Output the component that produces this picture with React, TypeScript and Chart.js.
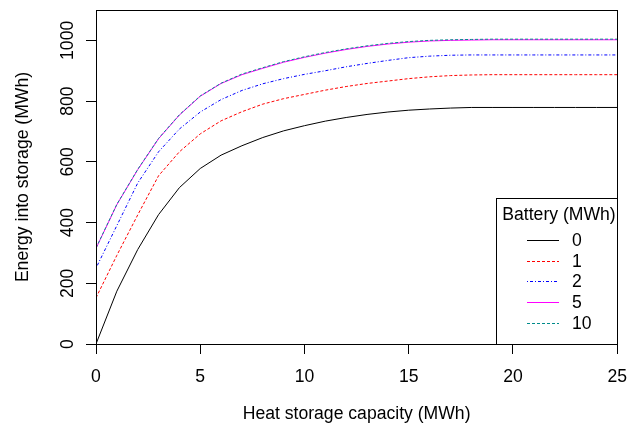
import { useEffect, useRef } from "react";
import { Chart, registerables } from "chart.js";

Chart.register(...registerables);

// ---- data ----
const heatCapacity = [0, 1, 2, 3, 4, 5, 6, 7, 8, 9, 10, 11, 12, 13, 14, 15, 16, 17, 18, 19, 20, 21, 22, 23, 24, 25];
const battery0 = [0, 174, 311, 426, 515, 578, 622, 653, 680, 702, 719, 734, 746, 756, 764, 770, 774, 777, 779, 779, 779, 779, 779, 779, 779, 779];
const battery1 = [152, 292, 425, 554, 633, 692, 735, 765, 790, 808, 822, 836, 848, 858, 866, 874, 880, 884, 886, 887, 887, 887, 887, 887, 887, 887];
const battery2 = [250, 390, 530, 633, 708, 764, 805, 835, 857, 874, 888, 900, 913, 924, 934, 943, 948, 951, 952, 952, 952, 952, 952, 952, 952, 952];
const battery5 = [315, 459, 574, 676, 754, 816, 858, 887, 908, 928, 944, 958, 970, 980, 988, 994, 998, 1000, 1001, 1002, 1002, 1002, 1002, 1002, 1002, 1002];
const battery10 = [316, 460, 575, 677, 755, 817, 859, 889, 910, 930, 946, 960, 972, 982, 990, 996, 1000, 1002, 1003, 1004, 1004, 1004, 1004, 1004, 1004, 1004];
const batteryLabels = ["0", "1", "2", "5", "10"];
const xTickValues = [0, 5, 10, 15, 20, 25];
const yTickValues = [0, 200, 400, 600, 800, 1000];

const seriesValues = [battery0, battery1, battery2, battery5, battery10];

// ---- styles ----
const FONT = "'Liberation Sans', Arial, Helvetica, sans-serif";
const FONT_SIZE = 17.6;
const seriesStyles = [
  { color: "#000000", dash: [] as number[] },
  { color: "#FF0000", dash: [3, 2] },
  { color: "#0000FF", dash: [1, 2, 3, 2] },
  { color: "#FF00FF", dash: [] as number[] },
  { color: "#008B8B", dash: [3, 2] },
];

const boxPlugin = {
  id: "rbox",
  afterDraw(chart: any) {
    const { ctx, chartArea } = chart;
    ctx.save();
    ctx.strokeStyle = "#000";
    ctx.lineWidth = 1;
    ctx.strokeRect(
      Math.round(chartArea.left) + 0.5,
      Math.round(chartArea.top) + 0.5,
      Math.round(chartArea.right - chartArea.left),
      Math.round(chartArea.bottom - chartArea.top)
    );
    ctx.restore();
  },
};

const legendPlugin = {
  id: "rlegend",
  afterDraw(chart: any) {
    const { ctx, chartArea } = chart;
    const right = Math.round(chartArea.right);
    const bottom = Math.round(chartArea.bottom);
    const left = right - 121;
    const top = bottom - 146;
    ctx.save();
    ctx.fillStyle = "#fff";
    ctx.fillRect(left, top, right - left, bottom - top);
    ctx.strokeStyle = "#000";
    ctx.lineWidth = 1;
    ctx.strokeRect(left + 0.5, top + 0.5, right - left, bottom - top);
    ctx.font = `${FONT_SIZE}px ${FONT}`;
    ctx.fillStyle = "#000";
    ctx.textAlign = "center";
    ctx.textBaseline = "middle";
    ctx.fillText("Battery (MWh)", left + 63, top + 17);
    batteryLabels.forEach((lab, i) => {
      const y = Math.round(top + 42 + i * 20.7) + 0.5;
      const st = seriesStyles[i];
      ctx.strokeStyle = st.color;
      ctx.lineWidth = 1;
      ctx.setLineDash(st.dash);
      ctx.beginPath();
      ctx.moveTo(left + 31, y);
      ctx.lineTo(left + 63, y);
      ctx.stroke();
      ctx.setLineDash([]);
      ctx.textAlign = "left";
      ctx.fillStyle = "#000";
      ctx.fillText(lab, left + 76, y + 1);
    });
    ctx.restore();
  },
};

export default function App() {
  const ref = useRef<HTMLCanvasElement>(null);
  useEffect(() => {
    const canvas = ref.current;
    if (!canvas) return;
    const chart = new Chart(canvas, {
      type: "line",
      data: {
        datasets: seriesValues.map((vals, i) => ({
          label: batteryLabels[i],
          data: heatCapacity.map((x, j) => ({ x, y: vals[j] })),
          borderColor: seriesStyles[i].color,
          borderDash: seriesStyles[i].dash,
          borderWidth: 1,
          pointRadius: 0,
          tension: 0,
          fill: false,
          order: 5 - i,
        })),
      },
      options: {
        responsive: false,
        animation: false,
        devicePixelRatio: 1,
        layout: { padding: { left: 0, top: 10, right: 22, bottom: 0 } },
        plugins: { legend: { display: false }, tooltip: { enabled: false } },
        scales: {
          x: {
            type: "linear",
            min: 0,
            max: 25,
            afterBuildTicks: (scale: any) => {
              scale.ticks = xTickValues.map((v) => ({ value: v }));
            },
            afterFit: (scale: any) => {
              scale.height = 88;
            },
            ticks: {
              color: "#000",
              font: { family: FONT, size: FONT_SIZE },
              padding: 13,
              maxRotation: 0,
              autoSkip: false,
              callback: (v: any) => String(v),
            },
            grid: { drawOnChartArea: false, drawTicks: true, tickLength: 10, color: "#000", lineWidth: 1 },
            border: { display: true, color: "#000", width: 1 },
            title: {
              display: true,
              text: "Heat storage capacity (MWh)",
              color: "#000",
              font: { family: FONT, size: FONT_SIZE },
              padding: { top: 0, bottom: 7 },
            },
          },
          y: {
            type: "linear",
            min: 0,
            max: 1100,
            afterBuildTicks: (scale: any) => {
              scale.ticks = yTickValues.map((v) => ({ value: v }));
            },
            afterFit: (scale: any) => {
              scale.width = 96;
            },
            ticks: {
              color: "#000",
              font: { family: FONT, size: FONT_SIZE },
              padding: -2,
              minRotation: 90,
              maxRotation: 90,
              crossAlign: "center",
              autoSkip: false,
              callback: (v: any) => String(v),
            },
            grid: { drawOnChartArea: false, drawTicks: true, tickLength: 10, color: "#000", lineWidth: 1 },
            border: { display: true, color: "#000", width: 1 },
            title: {
              display: true,
              text: "Energy into storage (MWh)",
              color: "#000",
              font: { family: FONT, size: FONT_SIZE },
              padding: { top: 13, bottom: 0 },
            },
          },
        },
      },
      plugins: [boxPlugin, legendPlugin],
    } as any);
    return () => chart.destroy();
  }, []);
  return (
    <div style={{ position: "fixed", left: 0, top: 0, width: 640, height: 432, background: "#fff" }}>
      <canvas ref={ref} width={640} height={432} style={{ display: "block", width: 640, height: 432 }} />
    </div>
  );
}
